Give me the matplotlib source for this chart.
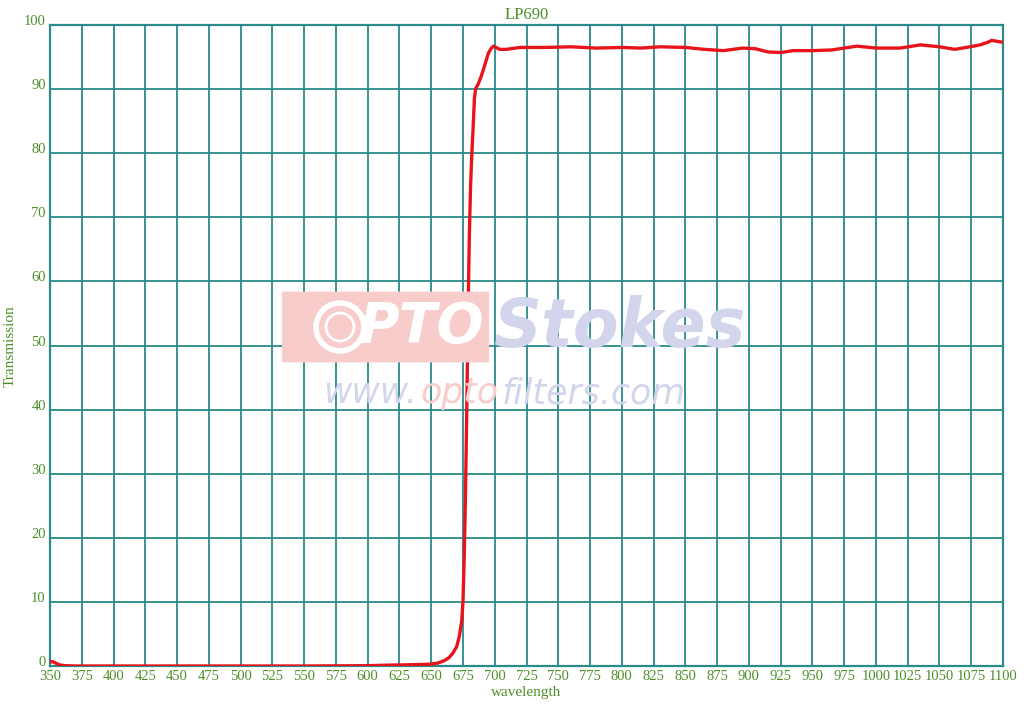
import matplotlib
matplotlib.use("Agg")
import matplotlib.pyplot as plt
from matplotlib.patches import FancyBboxPatch, Ellipse

# transmission curve
wavelength = [350, 352, 355, 358, 362, 370, 400, 450, 500, 550, 600, 620, 635, 645,
              650, 655, 660, 664, 667, 670, 672, 674, 675, 676, 677, 678, 679, 680,
              681, 682, 683, 684, 685, 687, 689, 691, 693, 695, 697, 699, 701, 704,
              709, 720, 740, 760, 780, 800, 815, 830, 850, 865, 880, 895, 905, 915,
              925, 935, 950, 965, 985, 1000, 1019, 1035, 1050, 1062, 1074, 1082,
              1088, 1091, 1097, 1100]
transmission = [0.6, 0.7, 0.4, 0.15, 0.05, 0.0, 0.0, 0.0, 0.0, 0.0, 0.05, 0.15, 0.2, 0.25,
                0.3, 0.45, 0.8, 1.3, 2.0, 3.0, 4.5, 7.0, 10.0, 17.0, 27.0, 40.0, 55.0, 67.0,
                75.0, 80.0, 84.0, 88.5, 90.1, 90.8, 91.8, 93.0, 94.3, 95.6, 96.3, 96.7, 96.5, 96.2,
                96.2, 96.5, 96.5, 96.6, 96.4, 96.5, 96.4, 96.6, 96.5, 96.2, 96.0, 96.4, 96.3, 95.8,
                95.7, 96.0, 96.0, 96.1, 96.7, 96.4, 96.4, 96.9, 96.6, 96.2, 96.6, 96.9,
                97.3, 97.6, 97.4, 97.3]

x_ticks = list(range(350, 1101, 25))
y_ticks = list(range(0, 101, 10))

TEAL = "#2a8a8c"
GREEN = "#4e8f2a"
SERIF = ["Liberation Serif", "DejaVu Serif"]
PINK = "#f9cccc"
LAVENDER = "#d2d5ec"

fig = plt.figure(figsize=(10.24, 7.11), dpi=100)
ax = fig.add_axes([50 / 1024, 1 - 666 / 711, 953 / 1024, 641 / 711])

# watermark behind the grid
fig.patches.append(FancyBboxPatch((284 / 1024, 1 - 361 / 711), 203 / 1024, 68 / 711,
                                  boxstyle="round,pad=0.002", transform=fig.transFigure,
                                  facecolor=PINK, edgecolor="none", zorder=0))
# lens-shaped "O"
for r in (24, 14):
    fig.patches.append(Ellipse((340 / 1024, 1 - 327 / 711), 2 * r / 1024, 2 * r / 711,
                               transform=fig.transFigure, facecolor="none",
                               edgecolor="white", lw=4 if r == 24 else 2, zorder=1))
fig.text(422 / 1024, 1 - 327 / 711, "PTO", color="white", fontsize=40, fontweight="bold",
         style="italic", ha="center", va="center", family="DejaVu Sans", zorder=1)
fig.text(620 / 1024, 1 - 328 / 711, "Stokes", color=LAVENDER, fontsize=48, fontweight="bold",
         style="italic", ha="center", va="center", family="DejaVu Sans", zorder=1)
fig.text(323 / 1024, 1 - 393 / 711, "www.", color=LAVENDER, fontsize=25, style="italic",
         ha="left", va="center", family="DejaVu Sans", zorder=1)
fig.text(420 / 1024, 1 - 393 / 711, "opto", color=PINK, fontsize=25, style="italic",
         ha="left", va="center", family="DejaVu Sans", zorder=1)
fig.text(502 / 1024, 1 - 393 / 711, "filters.com", color=LAVENDER, fontsize=25, style="italic",
         ha="left", va="center", family="DejaVu Sans", zorder=1)
ax.patch.set_alpha(0)

ax.plot(wavelength, transmission, color="#e8141c", lw=2.4, zorder=3)

ax.set_xlim(350, 1100)
ax.set_ylim(0, 100)
ax.set_xticks(x_ticks)
ax.set_yticks(y_ticks)
ax.grid(True, color=TEAL, lw=1.3)
for s in ax.spines.values():
    s.set_color(TEAL)
    s.set_linewidth(1.6)
ax.tick_params(length=0, pad=3, labelcolor=GREEN, labelsize=10.5)
for lbl in ax.get_xticklabels():
    lbl.set_family(SERIF)
for lbl in ax.get_yticklabels():
    lbl.set_family(SERIF)
    lbl.set_va("baseline")

ax.set_title("LP690", color=GREEN, fontsize=12, family=SERIF, pad=4)
ax.set_xlabel("wavelength", color=GREEN, fontsize=11, family=SERIF, labelpad=2)
fig.text(10 / 1024, 1 - 346 / 711, "Transmission", color=GREEN, fontsize=11, family=SERIF,
         rotation=90, ha="center", va="center")

fig.savefig("out.png", dpi=100)
